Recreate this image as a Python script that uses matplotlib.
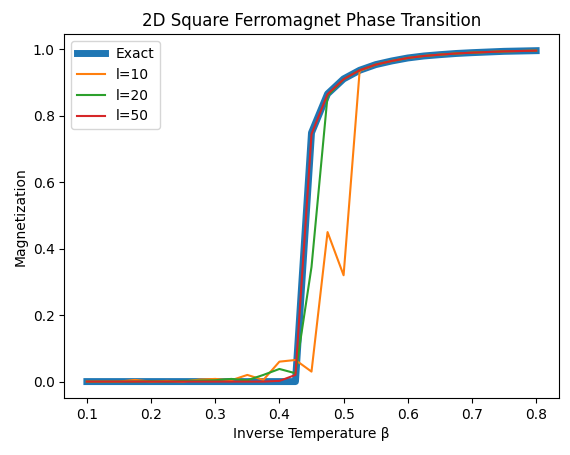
import matplotlib
matplotlib.use("Agg")
import matplotlib.pyplot as plt

beta = [0.1, 0.125, 0.15, 0.175, 0.2, 0.225, 0.25, 0.275, 0.3, 0.325, 0.35,
        0.375, 0.4, 0.425, 0.45, 0.475, 0.5, 0.525, 0.55, 0.575, 0.6, 0.625,
        0.65, 0.675, 0.7, 0.725, 0.75, 0.775, 0.8]
tail = [0.937, 0.954, 0.965, 0.974, 0.980, 0.984, 0.9875, 0.990, 0.992,
        0.994, 0.995, 0.996]
exact = [0.0] * 14 + [0.749, 0.866, 0.911] + tail
l10 = [0.0, 0.0, 0.0, 0.005, 0.0, 0.002, 0.0, 0.006, 0.008, 0.004, 0.02,
       0.005, 0.06, 0.065, 0.03, 0.45, 0.32, 0.935] + tail[1:]
l20 = [0.0, 0.0, 0.0, 0.0, 0.001, 0.0, 0.002, 0.003, 0.004, 0.008, 0.004,
       0.02, 0.038, 0.025, 0.345, 0.86, 0.91] + tail
l50 = [0.0] * 12 + [0.002, 0.02, 0.745, 0.865, 0.91] + tail

fig, ax = plt.subplots(figsize=(5.7, 4.55), dpi=100)
ax.plot(beta, exact, lw=5, label="Exact")
ax.plot(beta, l10, label="l=10")
ax.plot(beta, l20, label="l=20")
ax.plot(beta, l50, label="l=50")
ax.set_title("2D Square Ferromagnet Phase Transition")
ax.set_xlabel("Inverse Temperature β")
ax.set_ylabel("Magnetization")
ax.legend(loc="upper left")
fig.subplots_adjust(left=0.113, right=0.98, bottom=0.125, top=0.925)
fig.savefig("out.png")
